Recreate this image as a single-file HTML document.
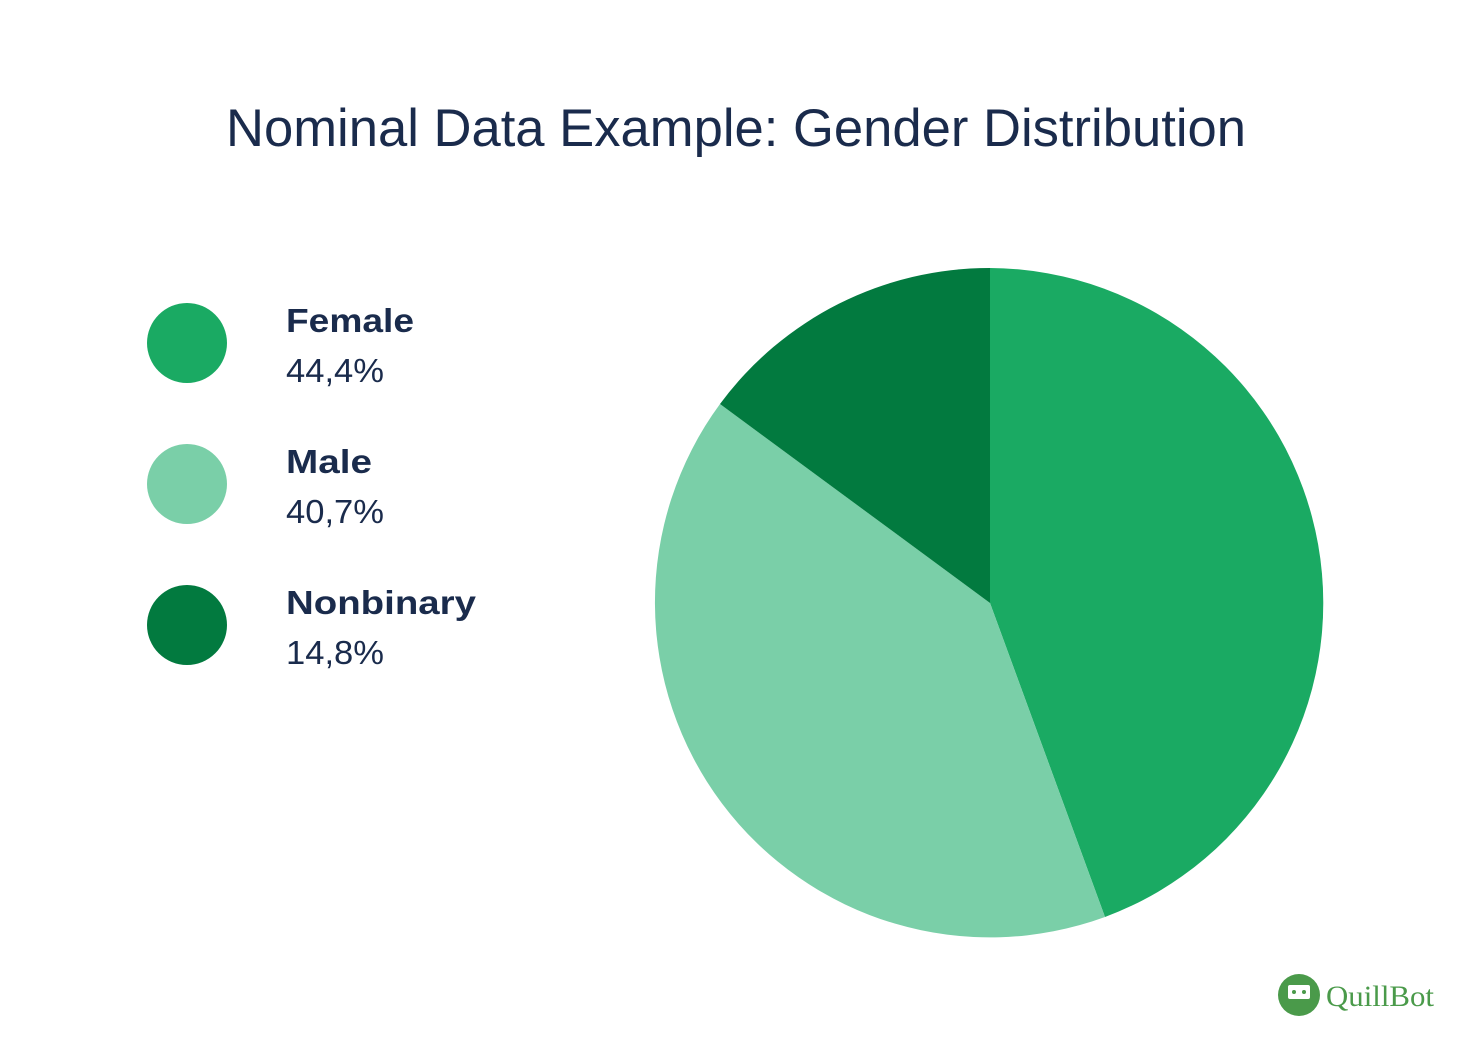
<!DOCTYPE html>
<html><head><meta charset="utf-8"><style>html,body{margin:0;padding:0;background:#fff;}svg{display:block}</style></head>
<body>
<svg width="1472" height="1058" viewBox="0 0 1472 1058" xmlns="http://www.w3.org/2000/svg">
<rect width="1472" height="1058" fill="#fff"/>
<text x="226" y="146" font-family="Liberation Sans, sans-serif" font-size="53" fill="#1a2b4c" textLength="1020" lengthAdjust="spacingAndGlyphs">Nominal Data Example: Gender Distribution</text>
<circle cx="187" cy="343" r="40" fill="#1aaa63"/>
<circle cx="187" cy="484" r="40" fill="#7acfa8"/>
<circle cx="187" cy="625" r="40" fill="#027a3f"/>
<g font-family="Liberation Sans, sans-serif" font-size="33" fill="#1a2b4c">
<text x="286" y="332" font-weight="bold" textLength="128" lengthAdjust="spacingAndGlyphs">Female</text>
<text x="286" y="382" textLength="98" lengthAdjust="spacingAndGlyphs">44,4%</text>
<text x="286" y="473" font-weight="bold" textLength="86" lengthAdjust="spacingAndGlyphs">Male</text>
<text x="286" y="523" textLength="98" lengthAdjust="spacingAndGlyphs">40,7%</text>
<text x="286" y="614" font-weight="bold" textLength="190" lengthAdjust="spacingAndGlyphs">Nonbinary</text>
<text x="286" y="664" textLength="98" lengthAdjust="spacingAndGlyphs">14,8%</text>
</g>
<path d="M990,603 L990,268 A335,335 0 0 1 1105,917 Z" fill="#1aaa63"/>
<path d="M990,603 L1105,917 A335,335 0 0 1 720,404 Z" fill="#7acfa8"/>
<path d="M990,603 L720,404 A335,335 0 0 1 990,268 Z" fill="#027a3f"/>
<circle cx="1299" cy="995" r="21" fill="#4a9a4a"/>
<rect x="1288" y="985" width="22" height="14" rx="2" fill="#fff"/>
<circle cx="1294" cy="992" r="2" fill="#4a9a4a"/><circle cx="1304" cy="992" r="2" fill="#4a9a4a"/>
<text x="1326" y="1006" font-family="Liberation Serif, serif" font-size="30" fill="#4a9a4a" textLength="108" lengthAdjust="spacingAndGlyphs">QuillBot</text>
</svg>
</body></html>
